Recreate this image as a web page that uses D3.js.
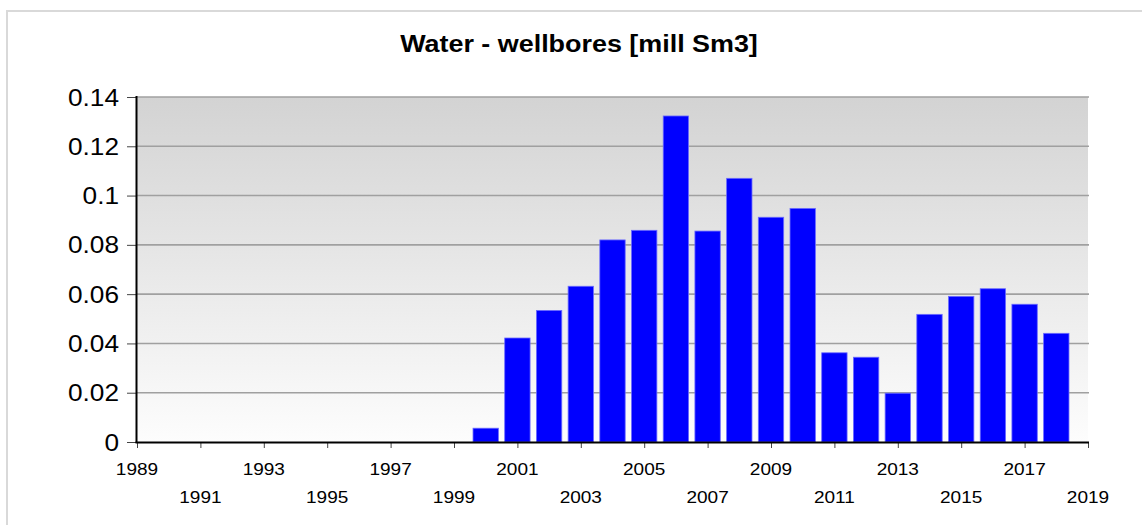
<!DOCTYPE html>
<html><head><meta charset="utf-8">
<script src="https://cdn.jsdelivr.net/npm/d3@7"></script>
<style>
html,body{margin:0;padding:0;background:#fff;}
svg{display:block;}
text{font-family:"Liberation Sans",Arial,sans-serif;fill:#000;}
</style></head>
<body>
<svg id="chart" width="1142" height="525"></svg>
<script>
const title = "Water - wellbores [mill Sm3]";
const years = [2000,2001,2002,2003,2004,2005,2006,2007,2008,2009,2010,2011,2012,2013,2014,2015,2016,2017,2018];
const values = [0.0056,0.0422,0.0534,0.0632,0.0820,0.0859,0.1323,0.0856,0.1070,0.0912,0.0948,0.0362,0.0344,0.0198,0.0518,0.0591,0.0622,0.0559,0.0441];
const yTicks = [0,0.02,0.04,0.06,0.08,0.1,0.12,0.14];
const xTicks = [1989,1991,1993,1995,1997,1999,2001,2003,2005,2007,2009,2011,2013,2015,2017,2019];

const svg = d3.select("#chart");
const L = 137, R = 1088, T = 97, B = 442;
const x = d3.scaleLinear().domain([1989, 2019]).range([L, R]);
const y = d3.scaleLinear().domain([0, 0.14]).range([B, T]);

// outer frame
svg.append("rect").attr("x",7).attr("y",11).attr("width",1300).attr("height",700)
  .attr("fill","none").attr("stroke","#d9d9d9").attr("stroke-width",2);

// gradient background
const defs = svg.append("defs");
const g = defs.append("linearGradient").attr("id","bg").attr("x1",0).attr("y1",0).attr("x2",0).attr("y2",1);
g.append("stop").attr("offset","0%").attr("stop-color","#d3d3d3");
g.append("stop").attr("offset","100%").attr("stop-color","#fdfdfd");
svg.append("rect").attr("x",L).attr("y",T).attr("width",R-L).attr("height",B-T).attr("fill","url(#bg)");

// gridlines
svg.append("g").selectAll("line").data(yTicks.slice(1)).join("line")
  .attr("x1",L).attr("x2",R+1).attr("y1",d=>y(d)).attr("y2",d=>y(d))
  .attr("stroke","#a0a0a0").attr("stroke-width",1.6);

// bars
const step = x(1990)-x(1989);
const bw = step*0.8;
svg.append("g").selectAll("rect").data(years).join("rect")
  .attr("x",(d)=>x(d)-bw/2).attr("width",bw)
  .attr("y",(d,i)=>y(values[i])).attr("height",(d,i)=>y(0)-y(values[i]))
  .attr("fill","#0000ff").attr("stroke","#6b6bff").attr("stroke-width",0.8);

// y axis
const ya = svg.append("g").attr("transform",`translate(${L},0)`)
  .call(d3.axisLeft(y).tickValues(yTicks).tickSize(10).tickFormat(""));
ya.select(".domain").remove();
ya.selectAll(".tick line").attr("stroke","#444").attr("stroke-width",1);
svg.append("line").attr("x1",L-0.5).attr("x2",L-0.5).attr("y1",T-1).attr("y2",B+1).attr("stroke","#000").attr("stroke-width",2);

svg.append("g").selectAll("text").data(yTicks).join("text")
  .attr("transform",d=>`translate(119,${y(d)+8.5}) scale(1.14,1)`)
  .attr("text-anchor","end").attr("font-size",23)
  .text(d=>String(d));

// x axis
const xa = svg.append("g").attr("transform",`translate(0,${B})`)
  .call(d3.axisBottom(x).tickValues(xTicks).tickSize(6).tickFormat(""));
xa.select(".domain").remove();
xa.selectAll(".tick line").attr("stroke","#444").attr("stroke-width",1);
svg.append("line").attr("x1",L-1.5).attr("x2",R+1).attr("y1",B+0.5).attr("y2",B+0.5).attr("stroke","#000").attr("stroke-width",2);

svg.append("g").selectAll("text").data(xTicks).join("text")
  .attr("transform",(d,i)=>`translate(${x(d)},${i%2===0?475:503}) scale(1.12,1)`)
  .attr("text-anchor","middle").attr("font-size",17)
  .text(d=>d);

// title
svg.append("text").attr("transform","translate(579,52) scale(1.17,1)")
  .attr("text-anchor","middle").attr("font-size",23).attr("font-weight","bold")
  .text(title);
</script>
</body></html>
